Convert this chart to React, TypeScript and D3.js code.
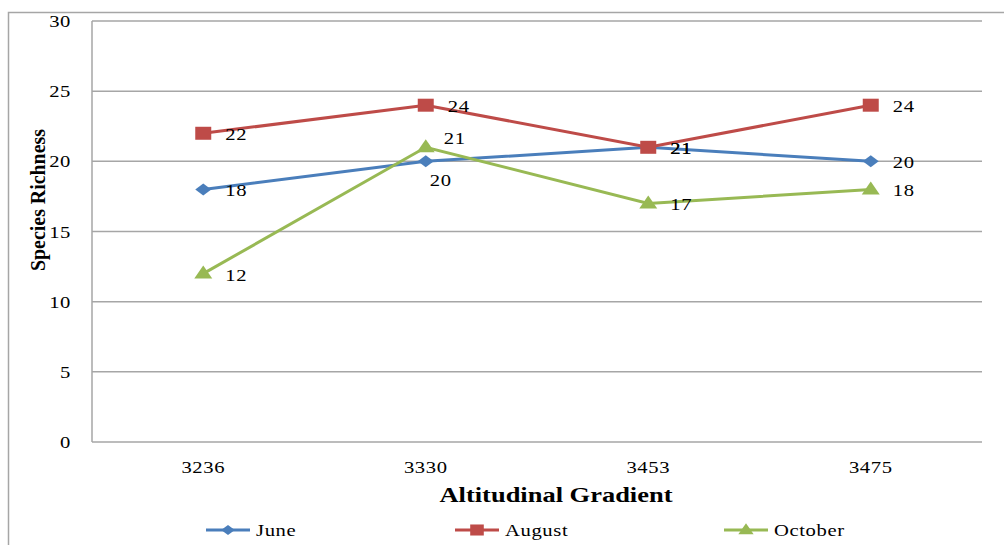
import { useEffect, useRef } from 'react';
import * as d3 from 'd3';

const categories = ['3236', '3330', '3453', '3475'];
const yTicks = [0, 5, 10, 15, 20, 25, 30];
const june = [18, 20, 21, 20];
const august = [22, 24, 21, 24];
const october = [12, 21, 17, 18];
// where each value label sits relative to its point
const juneLabelPos = ['right', 'below', 'right', 'right'];
const augustLabelPos = ['right', 'right', 'right', 'right'];
const octoberLabelPos = ['right', 'aboveRight', 'right', 'right'];

// marker shapes, drawn a bit wider than tall like the original
const diamond = (k: number) => `M${-8 * k},0L0,${-6 * k}L${8 * k},0L0,${6 * k}Z`;
const square = (k: number) => `M${-8 * k},${-6.5 * k}H${8 * k}V${6.5 * k}H${-8 * k}Z`;
const triangle = (k: number) => `M0,${-8 * k}L${9 * k},${5 * k}H${-9 * k}Z`;

const series = [
  { name: 'June', values: june, labelPos: juneLabelPos, color: '#4a7ebb', marker: diamond },
  { name: 'August', values: august, labelPos: augustLabelPos, color: '#be4b48', marker: square },
  { name: 'October', values: october, labelPos: octoberLabelPos, color: '#98b954', marker: triangle },
];

const W = 1004;
const H = 545;
const FONT = '"Liberation Serif", "Times New Roman", serif';
// the original text is rendered slightly stretched horizontally
const SX = 1.25;

export default function App() {
  const svgRef = useRef<SVGSVGElement | null>(null);

  useEffect(() => {
    if (!svgRef.current) return;
    const svg = d3.select(svgRef.current);
    svg.selectAll('*').remove();

    const margin = { top: 21, right: 22, bottom: 103, left: 92 };

    const x = d3
      .scaleBand<string>()
      .domain(categories)
      .range([margin.left, W - margin.right]);
    const y = d3
      .scaleLinear()
      .domain([0, 30])
      .range([H - margin.bottom, margin.top]);
    const cx = (c: string) => (x(c) ?? 0) + x.bandwidth() / 2;
    const at = (px: number, py: number) => `translate(${px},${py}) scale(${SX},1)`;

    // outer chart frame
    svg
      .append('rect')
      .attr('x', 8.5)
      .attr('y', 12.5)
      .attr('width', W + 20)
      .attr('height', H + 20)
      .attr('fill', 'none')
      .attr('stroke', '#a6a6a6')
      .attr('stroke-width', 1.5);

    // gridlines
    svg
      .append('g')
      .selectAll('line')
      .data(yTicks.filter((t) => t > 0))
      .join('line')
      .attr('x1', margin.left)
      .attr('x2', W - margin.right)
      .attr('y1', (d) => y(d))
      .attr('y2', (d) => y(d))
      .attr('stroke', '#a6a6a6')
      .attr('stroke-width', 1.5);

    // axes lines
    svg
      .append('line')
      .attr('x1', margin.left)
      .attr('x2', margin.left)
      .attr('y1', y(30))
      .attr('y2', y(0))
      .attr('stroke', '#a6a6a6')
      .attr('stroke-width', 1.5);
    svg
      .append('line')
      .attr('x1', margin.left)
      .attr('x2', W - margin.right)
      .attr('y1', y(0))
      .attr('y2', y(0))
      .attr('stroke', '#a6a6a6')
      .attr('stroke-width', 1.5);

    // y tick labels
    svg
      .append('g')
      .selectAll('text')
      .data(yTicks)
      .join('text')
      .attr('transform', (d) => at(71, y(d) + 6))
      .attr('text-anchor', 'end')
      .attr('font-family', FONT)
      .attr('font-size', 16.5)
      .attr('letter-spacing', 0.5)
      .attr('fill', '#000')
      .text((d) => String(d));

    // x tick labels
    svg
      .append('g')
      .selectAll('text')
      .data(categories)
      .join('text')
      .attr('transform', (d) => at(cx(d), 473))
      .attr('text-anchor', 'middle')
      .attr('font-family', FONT)
      .attr('font-size', 16.5)
      .attr('letter-spacing', 0.5)
      .attr('fill', '#000')
      .text((d) => d);

    // axis titles
    svg
      .append('text')
      .attr('x', 556)
      .attr('y', 502)
      .attr('text-anchor', 'middle')
      .attr('font-family', FONT)
      .attr('font-weight', 'bold')
      .attr('font-size', 21)
      .attr('textLength', 233)
      .attr('lengthAdjust', 'spacingAndGlyphs')
      .text('Altitudinal Gradient');
    svg
      .append('text')
      .attr('transform', 'translate(45,200) rotate(-90)')
      .attr('text-anchor', 'middle')
      .attr('font-family', FONT)
      .attr('font-weight', 'bold')
      .attr('font-size', 21)
      .attr('textLength', 142)
      .attr('lengthAdjust', 'spacingAndGlyphs')
      .text('Species Richness');

    const line = d3
      .line<number>()
      .x((_, i) => cx(categories[i]))
      .y((d) => y(d));

    series.forEach((s) => {
      const g = svg.append('g');
      g.append('path')
        .datum(s.values)
        .attr('fill', 'none')
        .attr('stroke', s.color)
        .attr('stroke-width', 3)
        .attr('d', line);
      g.selectAll('path.m')
        .data(s.values)
        .join('path')
        .attr('class', 'm')
        .attr('transform', (d, i) => `translate(${cx(categories[i])},${y(d)})`)
        .attr('d', s.marker(1))
        .attr('fill', s.color);
    });

    // value labels drawn on top
    series.forEach((s) => {
      svg
        .append('g')
        .selectAll('text')
        .data(s.values)
        .join('text')
        .attr('transform', (d, i) => {
          const p = s.labelPos[i];
          const px = cx(categories[i]);
          if (p === 'below') return at(px + 15, y(d) + 25);
          if (p === 'aboveRight') return at(px + 29, y(d) - 3);
          return at(px + 33, y(d) + 7);
        })
        .attr('text-anchor', 'middle')
        .attr('font-family', FONT)
        .attr('font-size', 16.5)
        .attr('letter-spacing', 0.5)
        .attr('fill', '#000')
        .text((d) => String(d));
    });

    // legend
    const legendX = [206, 455, 724];
    series.forEach((s, i) => {
      const lg = svg.append('g').attr('transform', `translate(${legendX[i]},530)`);
      lg.append('line')
        .attr('x1', 0)
        .attr('x2', 44)
        .attr('stroke', s.color)
        .attr('stroke-width', 3);
      lg.append('path')
        .attr('transform', 'translate(22,0)')
        .attr('d', s.marker(0.85))
        .attr('fill', s.color);
      lg.append('text')
        .attr('transform', at(50, 6))
        .attr('font-family', FONT)
        .attr('font-size', 16.5)
        .attr('letter-spacing', 0.5)
        .attr('fill', '#000')
        .text(s.name);
    });
  }, []);

  return (
    <svg
      ref={svgRef}
      width={W}
      height={H}
      viewBox={`0 0 ${W} ${H}`}
      style={{ position: 'absolute', left: 0, top: 0, background: '#fff' }}
    />
  );
}
